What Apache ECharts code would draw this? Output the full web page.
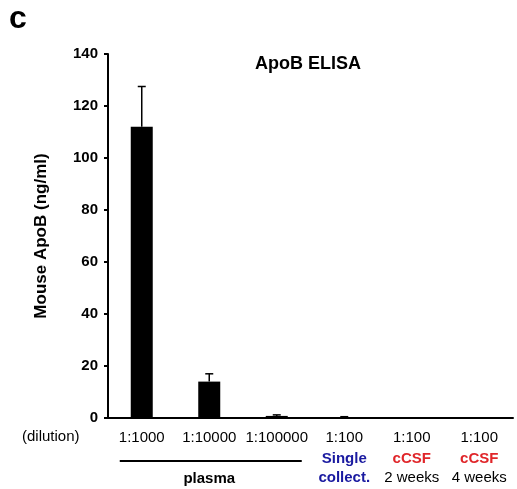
<!DOCTYPE html><html><head><meta charset="utf-8">
<script src="https://cdn.jsdelivr.net/npm/echarts@6/dist/echarts.min.js"></script>
<style>html,body{margin:0;background:#fff}#c{width:517px;height:489px}</style></head><body><div id="c"></div>
<script>
const dilutions=['1:1000','1:10000','1:100000','1:100','1:100','1:100'];
const groupLine1=['','','','Single','cCSF','cCSF'];
const groupLine2=['','','','collect.','2 weeks','4 weeks'];
const groupColor=['','','','blue','red','red'];
const values=[112,14,0.8,0.3,0,0];
const errUpper=[127.5,17,1.2,0.5,0,0];
const yTicks=[0,20,40,60,80,100,120,140];
const chart=echarts.init(document.getElementById('c'));
const F='Liberation Sans, Arial, sans-serif';
chart.setOption({
animation:false,
grid:{left:108,right:4,top:54,bottom:71},
title:[{text:'ApoB ELISA',left:250,top:50,textStyle:{fontFamily:F,fontSize:18,fontWeight:'bold',color:'#000'}},
{text:'c',left:4,top:-2,textStyle:{fontFamily:F,fontSize:32,fontWeight:'bold',color:'#000'}}],
xAxis:{type:'category',data:dilutions.map((d,i)=>i),
axisLine:{lineStyle:{color:'#000',width:2}},
axisTick:{alignWithLabel:true,lineStyle:{color:'#000',width:2},length:4,inside:true},
axisLabel:{interval:0,margin:10,fontFamily:F,fontSize:15,color:'#000',lineHeight:19,
formatter:(v)=>{const i=+v;let s=dilutions[i];if(groupLine1[i]){const c=groupColor[i]=='blue'?'b':'r';s+='\n{sp|}\n{'+c+'|'+groupLine1[i]+'}\n'+(groupLine2[i]=='collect.'?'{b|collect.}':groupLine2[i]);}return s;},
rich:{b:{color:'#1a1aa0',fontWeight:'bold',fontSize:15,fontFamily:F,lineHeight:19},r:{color:'#e0262a',fontWeight:'bold',fontSize:15,fontFamily:F,lineHeight:19},sp:{height:2,lineHeight:2}}}},
yAxis:{type:'value',min:0,max:140,interval:20,name:'Mouse ApoB (ng/ml)',nameLocation:'middle',nameGap:58,
nameTextStyle:{fontFamily:F,fontSize:17,fontWeight:'bold',color:'#000'},
axisLine:{show:true,lineStyle:{color:'#000',width:2}},axisTick:{show:true,length:4,lineStyle:{color:'#000',width:2}},
splitLine:{show:false},axisLabel:{fontFamily:F,fontSize:15,fontWeight:'bold',color:'#000',margin:10,formatter:v=>yTicks.includes(v)?v:''}},
series:[{type:'bar',data:values,barWidth:22,itemStyle:{color:'#000'}},
{type:'custom',data:errUpper.map((u,i)=>[i,values[i],u]),z:1,
renderItem:(p,api)=>{if(api.value(2)<=api.value(1))return;const a=api.coord([api.value(0),api.value(1)]),b=api.coord([api.value(0),api.value(2)]);
return{type:'group',children:[{type:'line',shape:{x1:a[0],y1:a[1],x2:b[0],y2:b[1]},style:{stroke:'#000',lineWidth:1.5}},
{type:'line',shape:{x1:b[0]-4,y1:b[1],x2:b[0]+4,y2:b[1]},style:{stroke:'#000',lineWidth:1.5}}]};}}]
});
const p0=chart.convertToPixel({xAxisIndex:0},0),p2=chart.convertToPixel({xAxisIndex:0},2),y0=chart.convertToPixel({yAxisIndex:0},0);
chart.setOption({graphic:[
{type:'text',left:22,top:y0+11,style:{text:'(dilution)',font:'15px '+F,fill:'#000'}},
{type:'line',shape:{x1:p0-22,y1:y0+43,x2:p2+25,y2:y0+43},style:{stroke:'#000',lineWidth:2}},
{type:'text',x:(p0+p2)/2,y:y0+53,style:{text:'plasma',font:'bold 15px '+F,fill:'#000',align:'center'}}]});
</script></body></html>
